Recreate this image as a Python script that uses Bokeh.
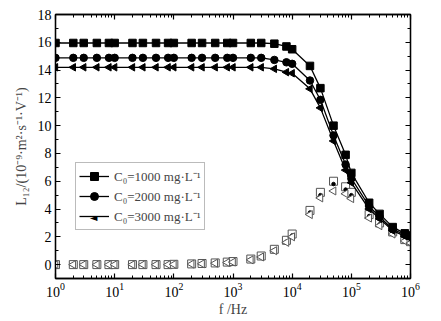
import numpy as np
from bokeh.plotting import figure
from bokeh.models import (LogAxis, LinearAxis, Legend, LegendItem, Range1d,
                          LogTicker, SingleIntervalTicker, Label)
from bokeh.embed import file_html
from bokeh.resources import INLINE

freq = [1, 2, 3, 5, 8, 10, 20, 30, 50, 80, 100, 200, 300, 500, 800,
        1e3, 2e3, 3e3, 5e3, 8e3, 1e4, 2e4, 3e4, 5e4, 8e4, 1e5, 2e5, 3e5, 5e5, 8e5, 1e6]

c1000_hi = [15.95] * 18 + [15.9, 15.7, 15.5, 14.3, 12.7, 10.0, 7.9, 6.6, 4.45, 3.65, 2.7, 2.25, 2.1]
c2000_hi = [14.88] * 18 + [14.73, 14.56, 14.45, 13.25, 11.86, 9.3, 7.2, 6.2, 4.2, 3.45, 2.55, 2.15, 2.0]
c3000_hi = [14.2] * 18 + [14.09, 13.85, 13.77, 12.65, 11.28, 8.9, 6.8, 5.9, 4.0, 3.3, 2.45, 2.05, 1.9]

c1000_lo = [0.0] * 10 + [0.02, 0.05, 0.08, 0.12, 0.18, 0.22, 0.4, 0.62, 1.1, 1.75, 2.2,
                         3.9, 5.2, 6.0, 5.6, 5.2, 3.6, 3.0, 2.35, 1.8, 1.65]
c2000_lo = [0.0] * 10 + [0.02, 0.04, 0.07, 0.11, 0.16, 0.2, 0.37, 0.58, 1.05, 1.65, 2.1,
                         3.75, 5.0, 5.8, 5.4, 5.0, 3.5, 2.9, 2.3, 1.75, 1.6]
c3000_lo = [0.0] * 10 + [0.02, 0.04, 0.06, 0.1, 0.15, 0.18, 0.34, 0.55, 1.0, 1.6, 2.0,
                         3.6, 4.8, 5.3, 5.1, 4.75, 3.35, 2.8, 2.2, 1.7, 1.55]

labels = ["C₀=1000 mg·L⁻¹", "C₀=2000 mg·L⁻¹", "C₀=3000 mg·L⁻¹"]

FONT = "Liberation Serif"

p = figure(width=441, height=321, x_axis_type="log",
           x_range=Range1d(1, 1e6), y_range=Range1d(-1, 18),
           output_backend="svg", toolbar_location=None,
           min_border_left=55, min_border_right=31,
           min_border_top=14, min_border_bottom=43)
p.xgrid.visible = False
p.ygrid.visible = False
p.outline_line_color = "black"
p.outline_line_width = 1.3
p.background_fill_color = "white"
p.border_fill_color = "white"

# low (open) series
p.scatter(freq, c1000_lo, marker="square", size=8, fill_color="white",
          line_color="#555555", line_width=1)
p.scatter(freq, c2000_lo, marker="circle", size=3.5, fill_color="black",
          line_color="black")
p.scatter(freq, c3000_lo, marker="triangle", angle=np.pi / 2, size=8,
          fill_color="white", line_color="#555555", line_width=1)

# high (filled) series
items = []
for ys, mk, lab in [(c1000_hi, "square", labels[0]),
                    (c2000_hi, "circle", labels[1]),
                    (c3000_hi, "triangle", labels[2])]:
    ln = p.line(freq, ys, line_color="black", line_width=1.3)
    kw = dict(angle=np.pi / 2) if mk == "triangle" else {}
    sc = p.scatter(freq, ys, marker=mk, size=7.5, fill_color="black",
                   line_color="black", **kw)
    rends = [ln] if mk == "triangle" else [ln, sc]
    items.append(LegendItem(label=lab, renderers=rends))

LX, LY, PAD, GW, GH, SP = 20, 48, 3, 30, 20, 0
legend = Legend(items=items, location=(LX, LY), border_line_color="#777777",
                border_line_width=1, padding=PAD, spacing=SP, margin=0,
                glyph_width=GW, glyph_height=GH, label_standoff=5,
                label_height=GH,
                label_text_font=FONT, label_text_font_size="13px",
                background_fill_color="white", background_fill_alpha=0)
p.add_layout(legend)

# left-pointing filled triangle drawn over the third legend entry's line
tri = Label(x=LX + PAD + GW / 2, y=LY + PAD + GH / 2 - 5, x_units="screen", y_units="screen",
            text="◄", text_font="DejaVu Sans", text_font_size="10px",
            text_align="center", text_color="black", level="overlay")
p.add_layout(tri)

def style(ax, labels_on=True):
    ax.axis_line_width = 1.3
    ax.major_tick_in = 5
    ax.major_tick_out = 0
    ax.minor_tick_in = 3
    ax.minor_tick_out = 0
    ax.major_tick_line_width = 1.2
    ax.minor_tick_line_width = 1
    ax.major_label_text_font = FONT
    ax.major_label_text_font_size = "14px" if labels_on else "5px"
    ax.major_label_text_color = "black"
    if not labels_on:
        ax.major_label_text_alpha = 0
    ax.axis_label_text_font = FONT
    ax.axis_label_text_font_size = "14px"
    ax.axis_label_text_font_style = "normal"

p.xaxis.ticker = LogTicker(num_minor_ticks=10)
p.yaxis.ticker = SingleIntervalTicker(interval=2, num_minor_ticks=2)
style(p.xaxis[0])
style(p.yaxis[0])
p.xaxis.axis_label = "f /Hz"
p.yaxis.axis_label = "L₁₂/(10⁻⁹·m²·s⁻¹·V⁻¹)"
p.xaxis.major_label_standoff = 4
p.xaxis.axis_label_standoff = 2
p.yaxis.major_label_standoff = 4
p.yaxis.axis_label_standoff = 6

top = LogAxis(ticker=LogTicker(num_minor_ticks=10))
style(top, False)
top.major_label_standoff = 0
p.add_layout(top, "above")
right = LinearAxis(ticker=SingleIntervalTicker(interval=2, num_minor_ticks=2))
style(right, False)
right.major_label_standoff = 0
p.add_layout(right, "right")

open("out.html", "w").write(file_html(p, INLINE))
